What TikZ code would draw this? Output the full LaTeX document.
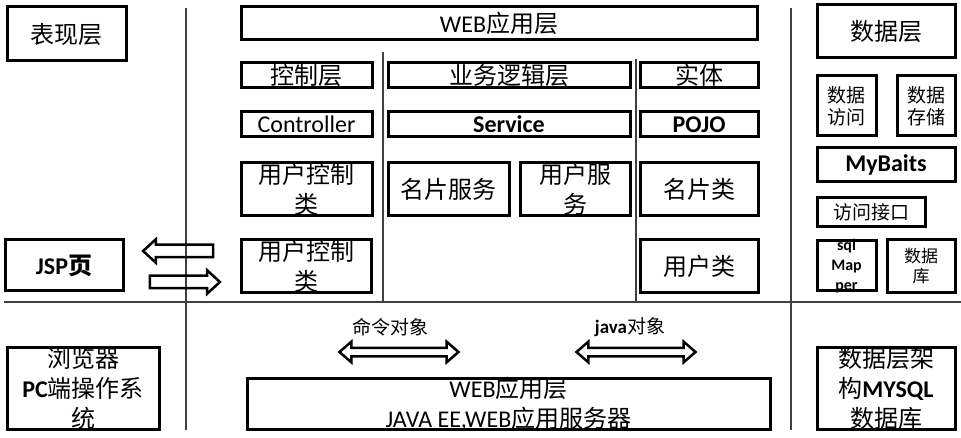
\documentclass[tikz,border=0pt]{standalone}
\usepackage{fontspec}
\setmainfont{Carlito}
\newfontfamily\cjk{Noto Sans CJK SC}
\usetikzlibrary{shapes.arrows}
\newcommand\zh[1]{{\cjk #1}}
\tikzset{
 box/.style={draw, line width=3pt, inner sep=0pt, align=center, font=\fontsize{24}{30}\selectfont},
 lbl/.style={inner sep=0pt, align=center, font=\fontsize{24}{30}\selectfont},
 small/.style={font=\fontsize{19}{22}\selectfont},
 tiny/.style={font=\fontsize{17}{20}\selectfont},
 divider/.style={draw=black!75, line width=1.5pt},
 blockarrow/.style={single arrow, draw, line width=2.5pt, inner xsep=0pt, inner ysep=5pt,
   minimum width=0pt, single arrow head extend=5.5pt, single arrow tip angle=85, minimum height=70pt},
 dblarrow/.style={double arrow, draw, line width=2.5pt, inner xsep=0pt, inner ysep=3pt,
   minimum width=0pt, double arrow head extend=6pt, double arrow tip angle=82, minimum height=119pt},
}
\begin{document}
\begin{tikzpicture}[x=1pt,y=-1pt]
\useasboundingbox (0,0) rectangle (961,438);
% dividers
\draw[divider] (186,8) -- (186,430);
\draw[divider] (383,52) -- (383,302);
\draw[divider] (636,59) -- (636,302);
\draw[divider] (791,8) -- (791,430);
\draw[divider] (4,302) -- (961,302);
% left column
\node[box, minimum width=119pt, minimum height=54pt] (pres) at (66.5,34) {\zh{表现层}};
\node[box, minimum width=118pt, minimum height=51pt] (jsp) at (64,265.5) {\bfseries JSP\zh{页}};
\node[box, minimum width=152pt, minimum height=82pt,
  label={[lbl]center:\zh{浏览器}\\{\bfseries PC}\zh{端操作系}\\\zh{统}}] (br) at (83,388) {};
% web application layer
\node[box, minimum width=516pt, minimum height=33pt] (web) at (499,23.5) {WEB\zh{应用层}};
\node[box, minimum width=131pt, minimum height=25pt] (ctrl) at (306.5,75.5) {\zh{控制层}};
\node[box, minimum width=242pt, minimum height=25pt] (biz) at (509,75.5) {\zh{业务逻辑层}};
\node[box, minimum width=118pt, minimum height=25pt] (ent) at (699,75.5) {\zh{实体}};
\node[box, minimum width=131pt, minimum height=25pt] (con) at (306.5,124.5) {Controller};
\node[box, minimum width=242pt, minimum height=25pt] (svc) at (509,124.5) {\bfseries Service};
\node[box, minimum width=118pt, minimum height=25pt] (pojo) at (699,124.5) {\bfseries POJO};
\node[box, minimum width=131pt, minimum height=53pt,
  label={[lbl]center:\zh{用户控制}\\\zh{类}}] (uca) at (306.5,189.5) {};
\node[box, minimum width=121pt, minimum height=53pt] (cs) at (448.5,189.5) {\zh{名片服务}};
\node[box, minimum width=110pt, minimum height=53pt,
  label={[lbl]center:\zh{用户服}\\\zh{务}}] (us) at (575,189.5) {};
\node[box, minimum width=118pt, minimum height=53pt] (card) at (699,189.5) {\zh{名片类}};
\node[box, minimum width=130pt, minimum height=53pt,
  label={[lbl]center:\zh{用户控制}\\\zh{类}}] (ucb) at (306,266.5) {};
\node[box, minimum width=118pt, minimum height=53pt] (user) at (699,266.5) {\zh{用户类}};
% block arrows between JSP and user controller
\node[blockarrow, shape border rotate=180] (toJsp) at (181.5,251) {};
\node[blockarrow] (toCtl) at (181.5,282) {};
% data layer
\node[box, minimum width=138pt, minimum height=53pt] (dl) at (886,31.5) {\zh{数据层}};
\node[box, minimum width=59pt, minimum height=60pt, small] (da) at (846.5,106) {\zh{数据}\\\zh{访问}};
\node[box, minimum width=58pt, minimum height=60pt, small] (ds) at (926,106) {\zh{数据}\\\zh{存储}};
\node[box, minimum width=138pt, minimum height=34pt] (mb) at (886,165) {\bfseries MyBaits};
\node[box, minimum width=108pt, minimum height=29pt, small] (ai) at (871,212.5) {\zh{访问接口}};
\node[box, minimum width=59pt, minimum height=50pt,
  label={[lbl,font=\fontsize{16}{20}\selectfont\bfseries]center:sql\\Map\\per}] (sm) at (846.5,266) {};
\node[box, minimum width=68pt, minimum height=53pt, tiny] (db) at (921,266.5) {\zh{数据}\\\zh{库}};
\node[box, minimum width=138pt, minimum height=82pt,
  label={[lbl]center:\zh{数据层架}\\\zh{构}{\bfseries MYSQL}\\\zh{数据库}}] (mysql) at (886,388) {};
% bottom web application layer
\node[box, minimum width=523pt, minimum height=51pt,
  label={[lbl]center:WEB\zh{应用层}\\JAVA EE,WEB\zh{应用服务器}}] (wb) at (508.5,403.5) {};
% transfer arrows and labels
\node[small] (cmdl) at (390,327) {\zh{命令对象}};
\node[dblarrow] (cmd) at (399,352) {};
\node[small] (javal) at (630,327) {{\bfseries java}\zh{对象}};
\node[dblarrow] (jav) at (636,352) {};
\end{tikzpicture}
\end{document}
